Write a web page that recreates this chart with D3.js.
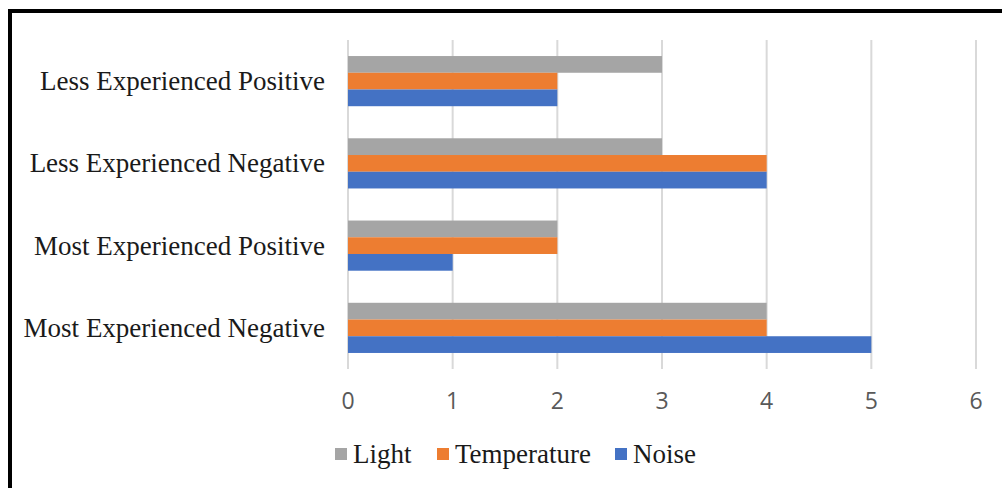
<!DOCTYPE html>
<html>
<head>
<meta charset="utf-8">
<script src="https://cdn.jsdelivr.net/npm/d3@7"></script>
<style>
  body { margin: 0; background: #fff; }
</style>
</head>
<body>
<svg width="1002" height="488"></svg>
<script>
// data
var categories = ["Less Experienced Positive", "Less Experienced Negative", "Most Experienced Positive", "Most Experienced Negative"];
var seriesNames = ["Light", "Temperature", "Noise"];
var light = [3, 3, 2, 4];
var temperature = [2, 4, 2, 4];
var noise = [2, 4, 1, 5];
var ticks = [0, 1, 2, 3, 4, 5, 6];
var colors = ["#A5A5A5", "#ED7D31", "#4472C4"];

var series = [light, temperature, noise];

var svg = d3.select("svg");

// outer frame
svg.append("rect")
  .attr("x", 10).attr("y", 11)
  .attr("width", 1020).attr("height", 500)
  .style("fill", "none")
  .style("stroke", "#000")
  .style("stroke-width", 4);

var x = d3.scaleLinear().domain([0, 6]).range([348, 976]);
var y = d3.scaleBand().domain(categories).range([40, 369]).paddingInner(0.39).paddingOuter(0.195);
var ySub = d3.scaleBand().domain(seriesNames).range([0, y.bandwidth()]);

// gridlines
svg.append("g").selectAll("line")
  .data(ticks)
  .enter()
  .append("line")
  .attr("x1", function(d) { return x(d); })
  .attr("x2", function(d) { return x(d); })
  .attr("y1", 40)
  .attr("y2", 369)
  .style("stroke", "#d9d9d9")
  .style("stroke-width", 2);

// tick labels
svg.append("g").selectAll("text")
  .data(ticks)
  .enter()
  .append("text")
  .attr("x", function(d) { return x(d); })
  .attr("y", 409)
  .attr("text-anchor", "middle")
  .style("font-family", "'Open Sans', sans-serif")
  .style("font-size", "23px")
  .style("fill", "#595959")
  .text(function(d) { return d; });

// category labels
svg.append("g").selectAll("text")
  .data(categories)
  .enter()
  .append("text")
  .attr("x", 325)
  .attr("y", function(d) { return y(d) + y.bandwidth() / 2; })
  .attr("dy", "0.33em")
  .attr("text-anchor", "end")
  .style("font-family", "'Liberation Serif', 'Times New Roman', serif")
  .style("font-size", "27px")
  .style("fill", "#1a1a1a")
  .text(function(d) { return d; });

// bars
series.forEach(function(vals, si) {
  svg.append("g").selectAll("rect")
    .data(vals)
    .enter()
    .append("rect")
    .attr("x", x(0))
    .attr("y", function(d, i) { return y(categories[i]) + ySub(seriesNames[si]); })
    .attr("width", function(d) { return x(d) - x(0); })
    .attr("height", ySub.bandwidth())
    .style("fill", colors[si]);
});

// legend
var legendX = [335, 437, 615];
var leg = svg.append("g").selectAll("g")
  .data(seriesNames)
  .enter()
  .append("g")
  .attr("transform", function(d, i) { return "translate(" + legendX[i] + ",448)"; });
leg.append("rect")
  .attr("width", 12).attr("height", 12)
  .style("fill", function(d, i) { return colors[i]; });
leg.append("text")
  .attr("x", 18)
  .attr("y", 15)
  .style("font-family", "'Liberation Serif', 'Times New Roman', serif")
  .style("font-size", "27px")
  .style("fill", "#1a1a1a")
  .text(function(d) { return d; });
</script>
</body>
</html>
